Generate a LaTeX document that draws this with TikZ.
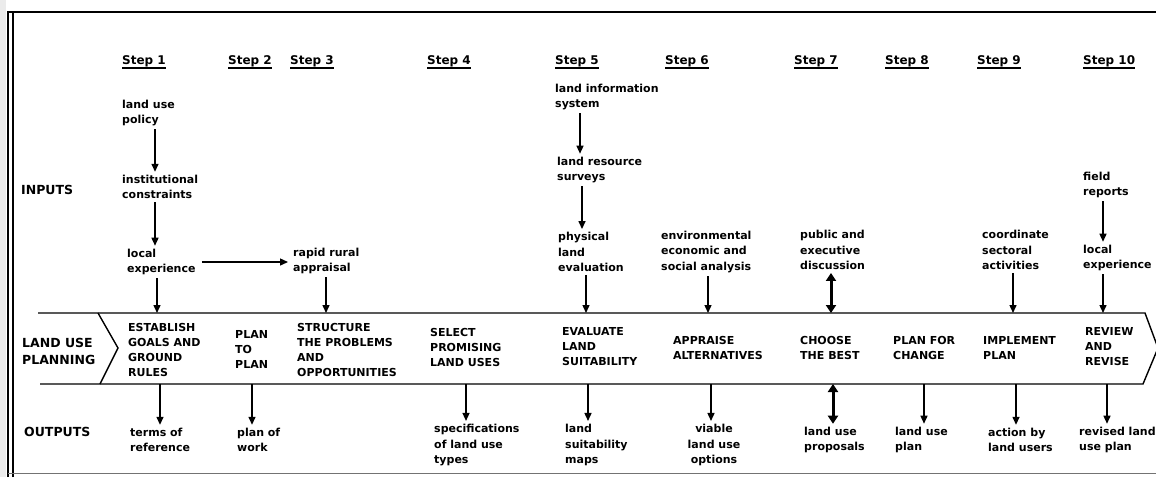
\documentclass[tikz,border=0pt]{standalone}
\usepackage{fontspec}
\setmainfont{DejaVu Sans}
\usetikzlibrary{arrows.meta}
\begin{document}
\begin{tikzpicture}[x=1pt,y=-1pt,
 txt/.style={anchor=west,align=left,inner xsep=0pt,inner ysep=3pt,font=\bfseries\fontsize{11}{15.5}\selectfont},
 btxt/.style={anchor=west,align=left,inner sep=0pt,font=\bfseries\fontsize{11}{15}\selectfont},
 head/.style={anchor=west,inner xsep=0pt,inner ysep=1pt,font=\bfseries\fontsize{12}{14}\selectfont},
 lbl/.style={anchor=west,align=left,inner sep=0pt,font=\bfseries\fontsize{12.5}{17}\selectfont},
 arr/.style={line width=1.4pt,-{Triangle[length=8pt,width=7pt]}},
 darr/.style={line width=3pt,{Triangle[length=8pt,width=10pt]}-{Triangle[length=8pt,width=10pt]}},
 band/.style={line width=1.4pt,line join=miter},
 uline/.style={line width=1.3pt}]
\useasboundingbox (0,0) rectangle (1156,477);
% frame
\fill[black!8] (0,0) rectangle (6,477);
\draw[line width=1.6pt] (8,477) -- (8,12) -- (1156,12);
\draw[line width=1.2pt] (13,477) -- (13,13);
\draw[black!55,line width=1pt] (8,473) -- (1156,473);
% step headings
\foreach \n/\x in {1/122,2/228,3/290,4/427,5/555,6/665,7/794,8/885,9/977,10/1083}{
  \node[head] (s\n) at (\x,61) {Step \n};
  \draw[uline] (s\n.south west) -- (s\n.south east);
}
% row labels
\node[lbl] (inputs) at (21,190) {INPUTS};
\node[lbl] (lup) at (22,351) {LAND USE\\PLANNING};
\node[lbl] (outputs) at (24,432) {OUTPUTS};
% band
\coordinate (bt) at (0,313);
\coordinate (bb) at (0,384);
\draw[band] (38,313) -- (1145,313) -- (1158,348) -- (1143,384) -- (40,384);
\draw[band] (98,313) -- (118,348) -- (100,384);
% band texts
\node[btxt] (est) at (128,350) {ESTABLISH\\GOALS AND\\GROUND\\RULES};
\node[btxt] (ptp) at (235,349) {PLAN\\TO\\PLAN};
\node[btxt] (str) at (297,350) {STRUCTURE\\THE PROBLEMS\\AND\\OPPORTUNITIES};
\node[btxt] (sel) at (430,347) {SELECT\\PROMISING\\LAND USES};
\node[btxt] (eva) at (562,347) {EVALUATE\\LAND\\SUITABILITY};
\node[btxt] (app) at (673,348) {APPRAISE\\ALTERNATIVES};
\node[btxt] (cho) at (800,348) {CHOOSE\\THE BEST};
\node[btxt] (pfc) at (893,348) {PLAN FOR\\CHANGE};
\node[btxt] (imp) at (983,348) {IMPLEMENT\\PLAN};
\node[btxt] (rev) at (1085,347) {REVIEW\\AND\\REVISE};
% inputs
\node[txt] (pol) at (122,113) {land use\\policy};
\node[txt] (inst) at (122,187) {institutional\\constraints};
\node[txt] (loc1) at (127,262) {local\\experience};
\node[txt] (rra) at (293,261) {rapid rural\\appraisal};
\node[txt] (lis) at (555,97) {land information\\system};
\node[txt] (lrs) at (557,170) {land resource\\surveys};
\node[txt] (ple) at (558,252) {physical\\land\\evaluation};
\node[txt] (env) at (661,252) {environmental\\economic and\\social analysis};
\node[txt] (pub) at (800,250) {public and\\executive\\discussion};
\node[txt] (coo) at (982,250) {coordinate\\sectoral\\activities};
\node[txt] (fld) at (1083,185) {field\\reports};
\node[txt] (loc10) at (1083,258) {local\\experience};
% outputs
\node[txt] (o1) at (130,440) {terms of\\reference};
\node[txt] (o2) at (237,440) {plan of\\work};
\node[txt] (o4) at (434,445) {specifications\\of land use\\types};
\node[txt] (o5) at (565,445) {land\\suitability\\maps};
\node[txt,anchor=center,align=center] (o6) at (714,445) {viable\\land use\\options};
\node[txt] (o7) at (804,440) {land use\\proposals};
\node[txt] (o8) at (895,440) {land use\\plan};
\node[txt] (o9) at (988,440) {action by\\land users};
\node[txt] (o10) at (1079,440) {revised land\\use plan};
% column coordinates
\coordinate (c1) at (155,0);
\coordinate (c1b) at (157,0);
\coordinate (c3) at (326,0);
\coordinate (c5a) at (580,0);
\coordinate (c5b) at (582,0);
\coordinate (c5c) at (586,0);
\coordinate (c6) at (708,0);
\coordinate (c7) at (831,0);
\coordinate (c9) at (1013,0);
\coordinate (c10) at (1103,0);
% input arrows
\draw[arr] (pol.south -| c1) -- (inst.north -| c1);
\draw[arr] (inst.south -| c1) -- (loc1.north -| c1);
\draw[arr] (loc1.south -| c1b) -- (bt -| c1b);
\draw[arr,shorten <=6pt,shorten >=5pt] (loc1.east) -- (loc1.east -| rra.west);
\draw[arr] (rra.south -| c3) -- (bt -| c3);
\draw[arr] (lis.south -| c5a) -- (lrs.north -| c5a);
\draw[arr] (lrs.south -| c5b) -- (ple.north -| c5b);
\draw[arr] (ple.south -| c5c) -- (bt -| c5c);
\draw[arr] (env.south -| c6) -- (bt -| c6);
\draw[darr] (pub.south -| c7) -- (bt -| c7);
\draw[arr] (coo.south -| c9) -- (bt -| c9);
\draw[arr] (fld.south -| c10) -- (loc10.north -| c10);
\draw[arr] (loc10.south -| c10) -- (bt -| c10);
% output arrows
\coordinate (d1) at (160,0);
\coordinate (d2) at (252,0);
\coordinate (d4) at (466,0);
\coordinate (d5) at (588,0);
\coordinate (d6) at (711,0);
\coordinate (d7) at (833,0);
\coordinate (d8) at (924,0);
\coordinate (d9) at (1016,0);
\coordinate (d10) at (1107,0);
\draw[arr] (bb -| d1) -- (o1.north -| d1);
\draw[arr] (bb -| d2) -- (o2.north -| d2);
\draw[arr] (bb -| d4) -- (o4.north -| d4);
\draw[arr] (bb -| d5) -- (o5.north -| d5);
\draw[arr] (bb -| d6) -- (o6.north -| d6);
\draw[darr] (bb -| d7) -- (o7.north -| d7);
\draw[arr] (bb -| d8) -- (o8.north -| d8);
\draw[arr] (bb -| d9) -- (o9.north -| d9);
\draw[arr] (bb -| d10) -- (o10.north -| d10);
\end{tikzpicture}
\end{document}
